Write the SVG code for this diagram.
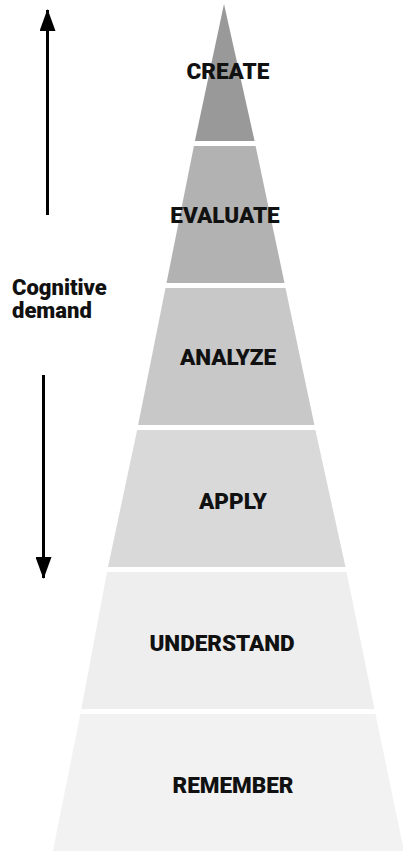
<svg xmlns="http://www.w3.org/2000/svg" width="403" height="851" viewBox="0 0 403 851">
<defs>
<style>
.lbl{font-family:Roboto,"Liberation Sans",sans-serif;font-weight:900;font-size:22.5px;fill:#111;text-anchor:middle}
.side{font-family:Roboto,"Liberation Sans",sans-serif;font-weight:900;font-size:22px;fill:#111}
.arr{stroke:#000;stroke-width:3;fill:none}
</style>
<marker id="ah" viewBox="0 0 22 16" refX="21" refY="8" markerWidth="22" markerHeight="16" markerUnits="userSpaceOnUse" orient="auto">
<path d="M0,0 L22,8 L0,16 z" fill="#000"/>
</marker>
</defs>
<rect width="403" height="851" fill="#fff"/>
<g id="create"><polygon points="224,4 254.6,141 194.9,141" fill="#999999"/><text class="lbl" x="228" y="79">CREATE</text></g>
<g id="evaluate"><polygon points="193.9,146 255.6,146 284.5,283 166.5,283" fill="#b2b2b2"/><text class="lbl" x="225" y="223">EVALUATE</text></g>
<g id="analyze"><polygon points="165.5,288 285.5,288 314.4,425 138.1,425" fill="#c8c8c8"/><text class="lbl" x="228" y="365">ANALYZE</text></g>
<g id="apply"><polygon points="137.1,430 315.4,430 345.5,567 108,567" fill="#d9d9d9"/><text class="lbl" x="233" y="509">APPLY</text></g>
<g id="understand"><polygon points="107,572 346.5,572 374.5,709 81.3,709" fill="#eeeeee"/><text class="lbl" x="222" y="651">UNDERSTAND</text></g>
<g id="remember"><polygon points="80.3,714 375.5,714 404,851 52.9,851" fill="#f2f2f2"/><text class="lbl" x="233" y="793">REMEMBER</text></g>
<g id="cognitive-demand"><text class="side" x="12" y="295">Cognitive</text><text class="side" x="12" y="318">demand</text></g>
<g id="connectors">
<line class="arr" x1="47.5" y1="215" x2="47.5" y2="10" marker-end="url(#ah)"/>
<line class="arr" x1="43.5" y1="375" x2="43.5" y2="578" marker-end="url(#ah)"/>
</g>
</svg>
